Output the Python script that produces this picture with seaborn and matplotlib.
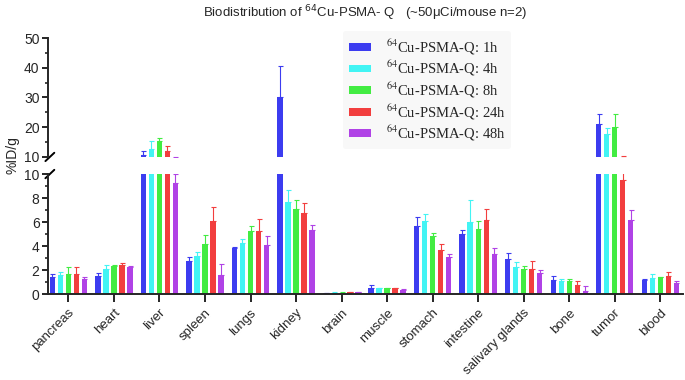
"""
Biodistribution of 64Cu-PSMA-Q — grouped bars with broken y-axis
"""

import numpy as np
import pandas as pd
import matplotlib
matplotlib.use("Agg")
import matplotlib.pyplot as plt
from matplotlib.font_manager import FontProperties
import seaborn as sns

# ── data (%ID/g, mean and upper SD) ─────────────────────────
ORGANS = ["pancreas", "heart", "liver", "spleen", "lungs", "kidney", "brain",
          "muscle", "stomach", "intestine", "salivary glands", "bone", "tumor", "blood"]
TIMES = ["1h", "4h", "8h", "24h", "48h"]

mean_1h = [1.46, 1.54, 10.6, 2.76, 3.80, 30.3, 0.08, 0.55, 5.68, 4.97, 2.90, 1.19, 21.0, 1.19]
mean_4h = [1.57, 2.12, 12.8, 3.20, 4.22, 7.67, 0.12, 0.47, 6.07, 6.01, 2.23, 1.08, 17.6, 1.32]
mean_8h = [1.71, 2.34, 15.4, 4.14, 5.24, 7.09, 0.12, 0.50, 4.80, 5.43, 2.10, 1.10, 20.2, 1.41]
mean_24h = [1.68, 2.45, 12.0, 6.10, 5.24, 6.73, 0.18, 0.47, 3.67, 6.20, 2.12, 0.80, 9.52, 1.52]
mean_48h = [1.27, 2.23, 9.27, 1.57, 4.06, 5.35, 0.15, 0.36, 3.12, 3.34, 1.79, 0.30, 6.15, 0.91]

sd_1h = [0.22, 0.20, 1.5, 0.30, 0.14, 10.2, 0.02, 0.19, 0.72, 0.33, 0.49, 0.35, 3.3, 0.08]
sd_4h = [0.25, 0.28, 2.7, 0.30, 0.33, 0.96, 0.02, 0.05, 0.63, 1.79, 0.42, 0.19, 2.0, 0.34]
sd_8h = [0.59, 0.11, 1.1, 0.80, 0.42, 0.71, 0.02, 0.05, 0.32, 0.64, 0.24, 0.14, 4.2, 0.05]
sd_24h = [0.61, 0.17, 1.8, 1.18, 1.05, 0.83, 0.03, 0.06, 0.47, 0.86, 0.67, 0.30, 0.9, 0.36]
sd_48h = [0.19, 0.11, 0.75, 0.97, 0.74, 0.44, 0.03, 0.05, 0.22, 0.49, 0.22, 0.39, 0.88, 0.19]

MEANS = [mean_1h, mean_4h, mean_8h, mean_24h, mean_48h]
SDS = [sd_1h, sd_4h, sd_8h, sd_24h, sd_48h]
COLORS = ["#3c3cf0", "#42f4f4", "#42ec42", "#f23e3e", "#b042e6"]

df = pd.DataFrame({
    "organ": ORGANS * len(TIMES),
    "time": [t for t in TIMES for _ in ORGANS],
    "value": [v for m in MEANS for v in m],
})

# ── style ───────────────────────────────────────────────────
sns.set_style("ticks")
plt.rcParams["font.family"] = ["Liberation Sans", "DejaVu Sans"]
plt.rcParams["axes.linewidth"] = 1.4

fig = plt.figure(figsize=(6.85, 3.8), dpi=100)
ax_top = fig.add_axes([0.070, 0.587, 0.927, 0.313])
ax_bot = fig.add_axes([0.070, 0.226, 0.927, 0.316])


def draw_bars(ax):
    sns.barplot(data=df, x="organ", y="value", hue="time", order=ORGANS,
                hue_order=TIMES, palette=COLORS, saturation=1, width=0.88,
                gap=0.35, errorbar=None, linewidth=0, legend=False, ax=ax)
    bars = list(ax.containers)
    for cont, sd, col in zip(bars, SDS, COLORS):
        xs = [p.get_x() + p.get_width() / 2 for p in cont.patches]
        hs = [p.get_height() for p in cont.patches]
        ax.errorbar(xs, hs, yerr=[np.zeros(len(sd)), sd], fmt="none",
                    ecolor=col, elinewidth=0.8, capsize=1.8, capthick=0.8)
    ax.set_xlim(-0.45, 13.5)
    ax.set_xlabel("")
    ax.set_ylabel("")
    sns.despine(ax=ax)
    return bars


draw_bars(ax_top)
bar_conts = draw_bars(ax_bot)

# upper panel 10–50
ax_top.set_ylim(10, 50)
ax_top.set_yticks([10, 20, 30, 40, 50])
ax_top.set_yticks([15, 25, 35, 45], minor=True)
ax_top.spines["bottom"].set_visible(False)
ax_top.tick_params(axis="x", bottom=False, labelbottom=False)

# lower panel 0–10
ax_bot.set_ylim(0, 10)
ax_bot.set_yticks([0, 2, 4, 6, 8, 10])
ax_bot.set_yticks([1, 3, 5, 7, 9], minor=True)
ax_bot.set_xticks(range(len(ORGANS)))
ax_bot.set_xticklabels(ORGANS, rotation=45, ha="right", rotation_mode="anchor", fontsize=9.5)
ax_bot.tick_params(axis="x", length=6, width=1.4, pad=3)

for ax in (ax_top, ax_bot):
    ax.tick_params(axis="y", which="major", length=4, width=1.4, labelsize=10, pad=2)
    ax.tick_params(axis="y", which="minor", length=2.5, width=1.2)

# break marks
kw = dict(color="black", lw=1.4, clip_on=False)
ax_top.plot([-0.004, 0.010], [-0.035, 0.035], transform=ax_top.transAxes, **kw)
ax_bot.plot([-0.004, 0.010], [0.965, 1.035], transform=ax_bot.transAxes, **kw)

# y label + title
fig.text(12 / 685, 1 - 155 / 380, "%ID/g", rotation=90, ha="center", va="center", fontsize=10)
fig.text(0.533, 1 - 13 / 380,
         r"Biodistribution of $^{64}$Cu-PSMA- Q   (~50μCi/mouse n=2)",
         ha="center", va="center", fontsize=9.5)

# legend
handles = [c.patches[0] for c in bar_conts]
labels = [r"$^{64}$Cu-PSMA-Q: " + t for t in TIMES]
leg_font = FontProperties(family="Liberation Serif", size=10.5, math_fontfamily="stix")
fig.legend(handles, labels, loc="upper left", bbox_to_anchor=(336 / 685, 1 - 24 / 380),
           prop=leg_font, frameon=True, facecolor="#f8f8f8", edgecolor="none",
           framealpha=1, handlelength=1.5, handleheight=0.45, handletextpad=1.0,
           labelspacing=0.15, borderpad=0.4)

fig.savefig("out.png", dpi=100)
plt.close(fig)
